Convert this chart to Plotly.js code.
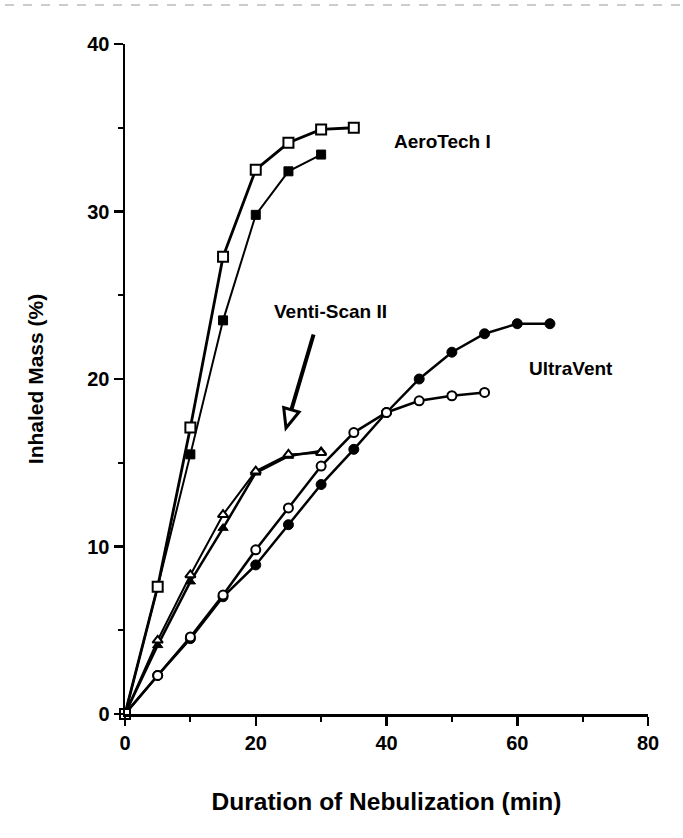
<!DOCTYPE html>
<html>
<head>
<meta charset="utf-8">
<script src="https://cdn.plot.ly/plotly-3.0.1.min.js"></script>
<style>html,body{margin:0;padding:0;background:#fff;}#chart{width:683px;height:838px;}</style>
</head>
<body>
<div id="chart"></div>
<script>
// Duration of nebulization (min)
const aeroX = [0, 5, 10, 15, 20, 25, 30, 35];
const aeroOpen = [0, 7.6, 17.1, 27.3, 32.5, 34.1, 34.9, 35.0];
const aeroFilledX = [0, 5, 10, 15, 20, 25, 30];
const aeroFilled = [0, 7.6, 15.5, 23.5, 29.8, 32.4, 33.4];

const ventiX = [0, 5, 10, 15, 20, 25, 30];
const ventiOpen = [0, 4.4, 8.3, 11.9, 14.5, 15.5, 15.6];
const ventiFilled = [0, 4.1, 7.9, 11.1, 14.4, 15.4, 15.7];

const ultraOpenX = [0, 5, 10, 15, 20, 25, 30, 35, 40, 45, 50, 55];
const ultraOpen = [0, 2.3, 4.6, 7.1, 9.8, 12.3, 14.8, 16.8, 18.0, 18.7, 19.0, 19.2];
const ultraFilledX = [0, 5, 10, 15, 20, 25, 30, 35, 40, 45, 50, 55, 60, 65];
const ultraFilled = [0, 2.3, 4.5, 7.0, 8.9, 11.3, 13.7, 15.8, 18.0, 20.0, 21.6, 22.7, 23.3, 23.3];

const xTicks = [0, 20, 40, 60, 80];
const yTicks = [0, 10, 20, 30, 40];

const FONT = 'Liberation Sans, Arial, sans-serif';
const W = 683, H = 838, M = {l: 125, r: 35, t: 44, b: 124};
const XR = [0, 80], YR = [0, 40];

function tr(x, y, openM, sym, size, lw) {
  return {
    x: x, y: y, type: 'scatter', mode: 'lines+markers', cliponaxis: false,
    line: {color: '#000', width: lw},
    marker: {symbol: sym, size: size, color: openM ? '#fff' : '#000',
             line: {color: '#000', width: openM ? 2 : 1}},
    showlegend: false, hoverinfo: 'x+y'
  };
}

const data = [
  tr(ultraFilledX, ultraFilled, false, 'circle', 10, 2.5),
  tr(ultraOpenX, ultraOpen, true, 'circle', 9, 2.5),
  tr(ventiX, ventiFilled, false, 'triangle-up', 9, 2.5),
  tr(ventiX, ventiOpen, true, 'triangle-up', 9, 2),
  tr(aeroFilledX, aeroFilled, false, 'square', 9, 2),
  tr(aeroX, aeroOpen, true, 'square', 10, 2.8)
];

// pixel -> data helpers for the hollow arrow head
const pw = W - M.l - M.r, ph = H - M.t - M.b;
const px2x = p => XR[0] + (p - M.l) / pw * (XR[1] - XR[0]);
const py2y = p => YR[0] + (H - M.b - p) / ph * (YR[1] - YR[0]);
const tip = [286, 428], tail = [314, 333];
const dx = tail[0] - tip[0], dy = tail[1] - tip[1], L = Math.hypot(dx, dy);
const ux = dx / L, uy = dy / L, hl = 19, hw = 8;
const bx = tip[0] + hl * ux, by = tip[1] + hl * uy;
const c1 = [bx - hw * uy, by + hw * ux], c2 = [bx + hw * uy, by - hw * ux];
const headPath = 'M ' + px2x(tip[0]) + ',' + py2y(tip[1]) +
  ' L ' + px2x(c1[0]) + ',' + py2y(c1[1]) +
  ' L ' + px2x(c2[0]) + ',' + py2y(c2[1]) + ' Z';

const lab = {family: FONT, size: 19, color: '#000', weight: 'bold'};

const layout = {
  width: W, height: H, margin: M,
  paper_bgcolor: '#fff', plot_bgcolor: '#fff',
  font: {family: FONT, color: '#000', size: 16},
  showlegend: false,
  xaxis: {
    range: XR, tickvals: xTicks, ticktext: xTicks.map(String),
    showgrid: false, zeroline: false, showline: true, linecolor: '#000', linewidth: 2.5,
    ticks: 'outside', ticklen: 9, tickwidth: 2.5, tickcolor: '#000',
    minor: {tickvals: [10, 30, 50, 70], ticks: 'outside', ticklen: 5, tickwidth: 2, tickcolor: '#000'},
    tickfont: {family: FONT, size: 20, color: '#000', weight: 'bold'},
    title: {text: 'Duration of Nebulization (min)', standoff: 41,
            font: {family: FONT, size: 24.5, color: '#000', weight: 'bold'}},
    automargin: false
  },
  yaxis: {
    range: YR, tickvals: yTicks, ticktext: yTicks.map(String),
    showgrid: false, zeroline: false, showline: true, linecolor: '#000', linewidth: 2.5,
    ticks: 'outside', ticklen: 9, tickwidth: 2.5, tickcolor: '#000',
    minor: {tickvals: [5, 15, 25, 35], ticks: 'outside', ticklen: 5, tickwidth: 2, tickcolor: '#000'},
    tickfont: {family: FONT, size: 20, color: '#000', weight: 'bold'},
    title: {text: 'Inhaled Mass (%)', standoff: 38,
            font: {family: FONT, size: 21, color: '#000', weight: 'bold'}},
    automargin: false
  },
  annotations: [
    {x: px2x(392), y: 34.2, xref: 'x', yref: 'y', text: 'AeroTech I', showarrow: false,
     xanchor: 'left', font: lab},
    {x: px2x(330), y: py2y(311), xref: 'x', yref: 'y', text: 'Venti-Scan II', showarrow: false,
     xanchor: 'center', font: lab},
    {x: px2x(527), y: py2y(368), xref: 'x', yref: 'y', text: 'UltraVent', showarrow: false,
     xanchor: 'left', font: lab},
    {x: px2x(bx), y: py2y(by), ax: px2x(tail[0]), ay: py2y(tail[1]),
     xref: 'x', yref: 'y', axref: 'x', ayref: 'y', text: '', showarrow: true,
     arrowhead: 0, arrowwidth: 4, arrowcolor: '#000', standoff: 0, startstandoff: 0}
  ],
  shapes: [
    {type: 'path', xref: 'x', yref: 'y', path: headPath,
     fillcolor: '#fff', line: {color: '#000', width: 3}},
    {type: 'line', xref: 'paper', yref: 'paper', x0: -120 / pw, x1: (W - M.l) / pw,
     y0: 1 + 39 / ph, y1: 1 + 39 / ph, line: {color: '#999', width: 1, dash: 'dash'}}
  ]
};

Plotly.newPlot('chart', data, layout, {displayModeBar: false, staticPlot: true});
</script>
</body>
</html>
